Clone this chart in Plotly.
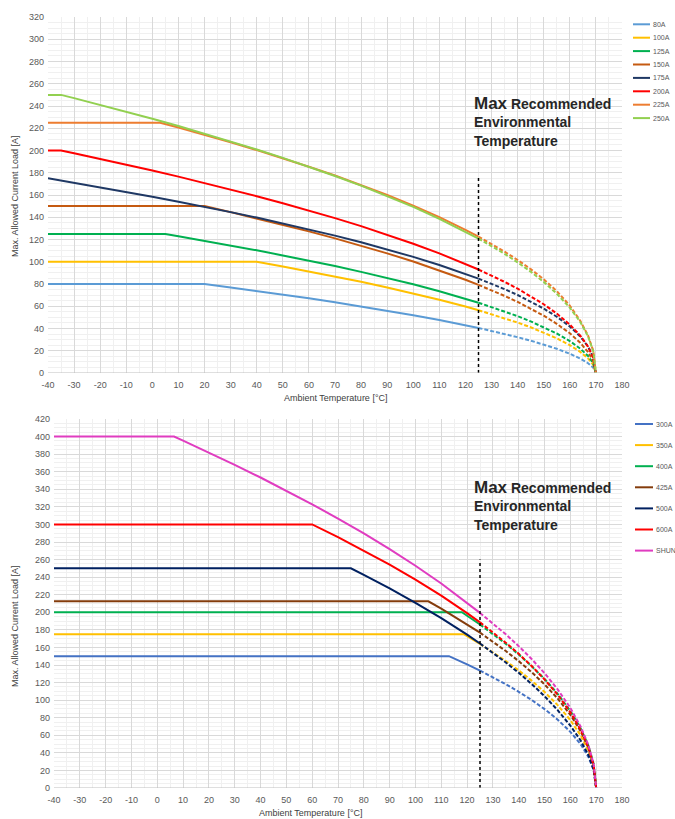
import plotly.graph_objects as go

# ---------------- DATA ----------------
DASH_T = [125, 130, 135, 140, 145, 150, 155, 160, 164, 167, 169, 170]

# Top chart: ambient temperature [°C] / max allowed current [A]
top_names = ["80A", "100A", "125A", "150A", "175A", "200A", "225A", "250A"]
top_colors = ["#5B9BD5", "#FFC000", "#00B050", "#C55A11", "#1F3864", "#FF0000", "#ED7D31", "#92D050"]

t_80 = [-40, 20, 30, 40, 50, 60, 70, 80, 90, 100, 110, 120] + DASH_T
i_80 = [80, 80, 76.9, 73.8, 70.5, 67.1, 63.6, 59.9, 56.1, 52.0, 47.7, 43.0,
        40.5, 37.9, 35.1, 32.2, 29.1, 25.6, 21.8, 17.3, 13.0, 8.8, 4.7, 0]
t_100 = [-40, 40, 50, 60, 70, 80, 90, 100, 110, 120] + DASH_T
i_100 = [100, 100, 95.8, 91.4, 86.8, 82.0, 76.9, 71.6, 65.9, 59.7,
         56.4, 52.9, 49.2, 45.3, 41.1, 36.4, 31.2, 25.0, 19.0, 13.1, 7.2, 0]
t_125 = [-40, 5, 10, 20, 30, 40, 50, 60, 70, 80, 90, 100, 110, 120] + DASH_T
i_125 = [125, 125, 123.0, 118.9, 114.7, 110.3, 105.7, 101.0, 96.1, 90.9, 85.5, 79.7, 73.5, 66.8,
         63.2, 59.4, 55.4, 51.1, 46.4, 41.3, 35.5, 28.7, 21.9, 15.3, 8.6, 0]
t_150 = [-40, 20, 30, 40, 50, 60, 70, 80, 90, 100, 110, 120] + DASH_T
i_150 = [150, 150, 144.6, 139.0, 133.3, 127.3, 121.0, 114.4, 107.5, 100.2, 92.3, 83.8,
         79.2, 74.4, 69.3, 63.9, 58.0, 51.5, 44.2, 35.7, 27.2, 18.8, 10.5, 0]
t_175 = [-40, -30, -20, -10, 0, 10, 20, 30, 40, 50, 60, 70, 80, 90, 100, 110, 120] + DASH_T
i_175 = [175, 171.0, 167.0, 162.8, 158.5, 154.0, 149.6, 144.6, 139.7, 134.5, 129.1, 123.5, 117.5,
         111.2, 104.4, 97.1, 89.1,
         84.8, 80.2, 75.4, 70.1, 64.3, 57.9, 50.6, 41.8, 32.9, 23.8, 14.2, 0]
t_200 = [-40, -35, -30, -20, -10, 0, 10, 20, 30, 40, 50, 60, 70, 80, 90, 100, 110, 120] + DASH_T
i_200 = [200, 200, 197.5, 192.5, 187.3, 182.0, 176.5, 170.8, 165.0, 158.9, 152.6, 146.0, 139.2,
         132.0, 124.4, 116.2, 107.5, 98.1,
         93.0, 87.6, 81.9, 75.8, 69.1, 61.8, 53.4, 43.5, 33.6, 23.7, 13.6, 0]
t_225 = [-40, 3, 10, 20, 30, 40, 50, 60, 70, 80, 90, 100, 110, 120] + DASH_T
i_225 = [225, 225, 220.6, 214.1, 207.4, 200.4, 193.1, 185.4, 177.5, 169.0, 160.0, 150.4, 140.1, 128.7,
         122.6, 116.1, 109.1, 101.6, 93.4, 84.2, 73.7, 60.5, 47.0, 33.5, 19.8, 0]
t_250 = [-40, -35, -30, -20, -10, 0, 10, 20, 30, 40, 50, 60, 70, 80, 90, 100, 110, 120] + DASH_T
i_250 = [250, 250, 247.1, 241.1, 234.9, 228.5, 222.0, 215.2, 208.2, 200.9, 193.4, 185.4, 177.1,
         168.4, 159.2, 149.3, 138.6, 127.0,
         120.8, 114.2, 107.1, 99.4, 91.1, 81.9, 71.3, 58.7, 45.9, 32.9, 19.4, 0]

top_t = [t_80, t_100, t_125, t_150, t_175, t_200, t_225, t_250]
top_i = [i_80, i_100, i_125, i_150, i_175, i_200, i_225, i_250]

# Bottom chart
bot_names = ["300A", "350A", "400A", "425A", "500A", "600A", "SHUNT"]
bot_colors = ["#4472C4", "#FFC000", "#00B050", "#843C0C", "#002060", "#FF0000", "#E03CC0"]

t_300 = [-40, 113, 120] + DASH_T
i_300 = [150, 150, 140.7, 133.6, 126.1, 118.1, 109.5, 100.2, 89.8, 78.0, 63.9, 49.8, 35.4, 20.7, 0]
t_350 = [-40, 118.7, 120] + DASH_T
i_350 = [175, 175, 172.8, 163.9, 154.5, 144.5, 133.8, 122.2, 109.3, 94.6, 77.3, 59.8, 42.3, 24.4, 0]
t_400 = [-40, 118, 120] + DASH_T
i_400 = [200, 200, 196.1, 186.1, 175.5, 164.1, 151.9, 138.7, 124.1, 107.5, 87.7, 67.9, 48.1, 27.7, 0]
t_425 = [-40, 105, 110, 120] + DASH_T
i_425 = [212.5, 212.5, 204.2, 186.4, 176.8, 166.7, 155.9, 144.4, 131.8, 117.9, 102.1, 83.3, 64.6,
         45.7, 26.4, 0]
t_500 = [-40, 75, 80, 90, 100, 110, 120] + DASH_T
i_500 = [250, 250, 242.5, 227.1, 210.7, 193.3, 174.5, 164.5, 154.0, 142.9, 131.1, 118.4, 104.5,
         88.9, 70.9, 54.0, 37.5, 21.0, 0]
t_600 = [-40, 60, 70, 80, 90, 100, 110, 120] + DASH_T
i_600 = [300, 300, 285.5, 270.3, 254.2, 237.2, 218.9, 199.1, 188.5, 177.3, 165.4, 152.7, 138.8,
         123.6, 106.5, 86.2, 66.1, 46.1, 26.0, 0]
t_shunt = [-40, 6.5, 10, 20, 30, 40, 50, 60, 70, 80, 90, 100, 110, 120] + DASH_T
i_shunt = [400, 400, 395.4, 381.8, 367.8, 353.4, 338.5, 322.9, 306.7, 289.8, 271.9, 253.0, 232.8,
           211.0, 199.3, 187.4, 174.9, 161.4, 146.8, 130.7, 112.6, 91.2, 69.9, 48.7, 27.5, 0]

bot_t = [t_300, t_350, t_400, t_425, t_500, t_600, t_shunt]
bot_i = [i_300, i_350, i_400, i_425, i_500, i_600, i_shunt]

MAX_REC_T = 125
top_marker_i = [0, 178]
bot_marker_i = [0, 260]

x_ticks = list(range(-40, 181, 10))
x_tick_labels = [str(v) for v in x_ticks]
top_y_ticks = list(range(0, 321, 20))
bot_y_ticks = list(range(0, 421, 20))

# ---------------- FIGURE ----------------
W, H = 675, 819
def px(x): return x / W
def py(y): return 1 - y / H

fig = go.Figure()

def add_series(t, i, color, xa, ya):
    st = [(a, b) for a, b in zip(t, i) if a <= MAX_REC_T]
    ds = [(a, b) for a, b in zip(t, i) if a >= MAX_REC_T]
    fig.add_trace(go.Scatter(x=[p[0] for p in st], y=[p[1] for p in st], mode="lines",
                             line=dict(color=color, width=2), xaxis=xa, yaxis=ya,
                             showlegend=False, hoverinfo="skip"))
    fig.add_trace(go.Scatter(x=[p[0] for p in ds], y=[p[1] for p in ds], mode="lines",
                             line=dict(color=color, width=2, dash="4px,2px"), xaxis=xa, yaxis=ya,
                             showlegend=False, hoverinfo="skip"))

for t, i, c in zip(top_t, top_i, top_colors):
    add_series(t, i, c, "x", "y")
for t, i, c in zip(bot_t, bot_i, bot_colors):
    add_series(t, i, c, "x2", "y2")

fig.add_trace(go.Scatter(x=[MAX_REC_T, MAX_REC_T], y=top_marker_i, mode="lines",
                         line=dict(color="#000000", width=1.5, dash="dot"),
                         xaxis="x", yaxis="y", showlegend=False, hoverinfo="skip"))
fig.add_trace(go.Scatter(x=[MAX_REC_T, MAX_REC_T], y=bot_marker_i, mode="lines",
                         line=dict(color="#000000", width=1.5, dash="dot"),
                         xaxis="x2", yaxis="y2", showlegend=False, hoverinfo="skip"))

tick_font = dict(family="Liberation Sans, Arial, sans-serif", size=9, color="#595959")
grid = dict(showgrid=True, gridcolor="#D9D9D9", gridwidth=1, zeroline=False,
            ticks="", tickfont=tick_font, showline=False, automargin=False)
minor = dict(dtick=5, showgrid=True, gridcolor="#F0F0F0", gridwidth=1)

fig.update_layout(
    width=W, height=H, margin=dict(l=0, r=0, t=0, b=0, autoexpand=False),
    paper_bgcolor="white", plot_bgcolor="white", showlegend=False,
    xaxis=dict(domain=[px(48), px(622)], anchor="y", range=[-40, 180], tickvals=x_ticks,
               ticktext=x_tick_labels, minor=minor, ticklabelstandoff=5, **grid),
    yaxis=dict(domain=[py(373), py(17)], anchor="x", range=[0, 320], tickvals=top_y_ticks,
               minor=minor, ticklabelstandoff=3, **grid),
    xaxis2=dict(domain=[px(54), px(622)], anchor="y2", range=[-40, 180], tickvals=x_ticks,
                ticktext=x_tick_labels, minor=minor, ticklabelstandoff=5, **grid),
    yaxis2=dict(domain=[py(788), py(419)], anchor="x2", range=[0, 420], tickvals=bot_y_ticks,
                minor=minor, ticklabelstandoff=3, **grid),
)

# axis base lines
for xr, yr in [("x domain", "y"), ("x2 domain", "y2")]:
    fig.add_shape(type="line", xref=xr, yref=yr, x0=0, x1=1, y0=0, y1=0,
                  line=dict(color="#BFBFBF", width=1))

title_font = dict(family="Liberation Sans, Arial, sans-serif", size=9, color="#404040")
def label(text, x, y, angle=0):
    fig.add_annotation(text=text, xref="paper", yref="paper", x=px(x), y=py(y),
                       xanchor="center", yanchor="middle", showarrow=False,
                       textangle=angle, font=title_font)

label("Ambient Temperature [°C]", 335, 398)
label("Ambient Temperature [°C]", 310, 813)
label("Max. Allowed Current Load [A]", 15, 196, -90)
label("Max. Allowed Current Load [A]", 15, 626, -90)

# "Max Recommended Environmental Temperature" labels
note_font = dict(family="Liberation Sans, Arial, sans-serif", size=14, color="#262626")
note_lines = ["<b><span style='font-size:17px'>Max</span> Recommended</b>",
              "<b>Environmental</b>", "<b>Temperature</b>"]
for top_y in (103, 487):
    for k, line in enumerate(note_lines):
        fig.add_annotation(text=line, xref="paper", yref="paper", x=px(472), y=py(top_y + 19 * k),
                           xanchor="left", yanchor="middle", showarrow=False, font=note_font)

# custom legends
leg_font = dict(family="Liberation Sans, Arial, sans-serif", size=7, color="#595959")
def legend(names, colors, x0, x1, y0, step):
    for k, (n, c) in enumerate(zip(names, colors)):
        y = y0 + step * k
        fig.add_shape(type="line", xref="paper", yref="paper", x0=px(x0), x1=px(x1),
                      y0=py(y), y1=py(y), line=dict(color=c, width=2))
        fig.add_annotation(text=n, xref="paper", yref="paper", x=px(x1 + 1), y=py(y),
                           xanchor="left", yanchor="middle", showarrow=False, font=leg_font)

legend(top_names, top_colors, 633, 650, 24.3, 13.4)
legend(bot_names, bot_colors, 635, 653, 424, 21.1)

fig.write_html("out.html", config={"displayModeBar": False},
               post_script="document.body.style.margin='0px';")
